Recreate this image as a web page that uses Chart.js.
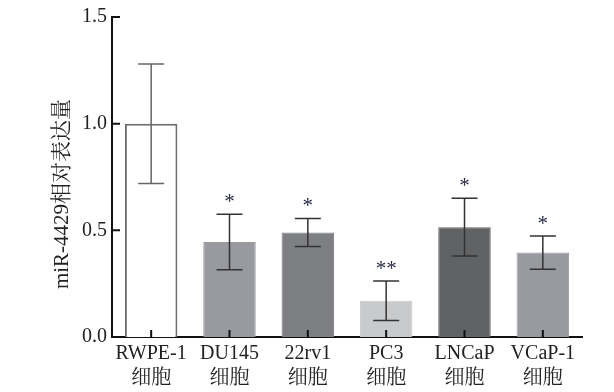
<!DOCTYPE html>
<html>
<head>
<meta charset="utf-8">
<script src="https://cdn.jsdelivr.net/npm/chart.js@4/dist/chart.umd.min.js"></script>
<style>
  html, body { margin: 0; padding: 0; background: #fff; }
  #wrap { width: 614px; height: 392px; }
</style>
</head>
<body>
<div id="wrap"><canvas id="mainChart" width="614" height="392"></canvas></div>
<script>
// Data
const categories = [['RWPE-1', '细胞'], ['DU145', '细胞'], ['22rv1', '细胞'], ['PC3', '细胞'], ['LNCaP', '细胞'], ['VCaP-1', '细胞']];
const values = [1.0, 0.445, 0.49, 0.17, 0.515, 0.396];
const errors = [0.28, 0.13, 0.066, 0.093, 0.135, 0.078];
const marks = ['', '*', '*', '**', '*', '*'];
const yTicks = [0, 0.5, 1.0, 1.5];
const yTitle = 'miR-4429相对表达量';

const fillColors = ['#ffffff', '#999aa0', '#7e7f82', '#c9cacc', '#616264', '#999aa0'];
const borderColors = ['#6e6e6e', '#999aa0', '#7e7f82', '#c9cacc', '#616264', '#999aa0'];
const serif = '"Liberation Serif", "Noto Serif CJK SC", "Noto Sans CJK SC", serif';

// Error bars, significance marks, inward ticks and the y title
const extrasPlugin = {
  id: 'extras',
  afterDatasetsDraw(chart) {
    const { ctx, scales: { x, y } } = chart;
    const meta = chart.getDatasetMeta(0);
    ctx.save();
    meta.data.forEach((bar, i) => {
      const cx = bar.x;
      const top = y.getPixelForValue(values[i] + errors[i]);
      const bot = y.getPixelForValue(values[i] - errors[i]);
      ctx.strokeStyle = i === 0 ? '#666' : '#333';
      ctx.lineWidth = 1.5;
      ctx.beginPath();
      ctx.moveTo(cx, top); ctx.lineTo(cx, bot);
      ctx.moveTo(cx - 13, top); ctx.lineTo(cx + 13, top);
      ctx.moveTo(cx - 13, bot); ctx.lineTo(cx + 13, bot);
      ctx.stroke();
      if (marks[i]) {
        ctx.fillStyle = '#2a2d45';
        ctx.font = '21px ' + serif;
        ctx.textAlign = 'center';
        ctx.textBaseline = 'alphabetic';
        ctx.fillText(marks[i], cx, top - 6);
      }
    });
    // ticks pointing into the plot
    ctx.strokeStyle = '#111';
    ctx.lineWidth = 2;
    ctx.beginPath();
    yTicks.forEach(v => {
      const py = y.getPixelForValue(v);
      ctx.moveTo(x.left, py); ctx.lineTo(x.left + 8, py);
    });
    meta.data.forEach(bar => {
      ctx.moveTo(bar.x, y.bottom); ctx.lineTo(bar.x, y.bottom - 7);
    });
    ctx.stroke();

    // rotated axis title, sitting a bit below the axis middle as in the source
    ctx.translate(62, (y.top + y.bottom) / 2 + 17);
    ctx.rotate(-Math.PI / 2);
    ctx.fillStyle = '#222';
    ctx.font = '21px ' + serif;
    ctx.textAlign = 'center';
    ctx.textBaseline = 'middle';
    ctx.fillText(yTitle, 0, 0);
    ctx.restore();
  }
};

new Chart(document.getElementById('mainChart').getContext('2d'), {
  type: 'bar',
  data: {
    labels: categories,
    datasets: [{
      data: values,
      backgroundColor: fillColors,
      borderColor: borderColors,
      borderWidth: [2, 1, 1, 1, 1, 1],
      barPercentage: 0.67,
      categoryPercentage: 1.0
    }]
  },
  options: {
    responsive: false,
    animation: false,
    layout: { padding: { left: 50, right: 32, top: 16, bottom: 0 } },
    plugins: { legend: { display: false }, tooltip: { enabled: false } },
    scales: {
      x: {
        grid: { display: false, drawTicks: false },
        border: { display: true, color: '#111', width: 2 },
        ticks: { color: '#222', padding: 4, font: { family: serif, size: 20, lineHeight: 1.25 }, maxRotation: 0, autoSkip: false },
        afterFit(scale) { scale.height = 55; }
      },
      y: {
        min: 0, max: 1.5,
        afterBuildTicks(scale) { scale.ticks = yTicks.map(v => ({ value: v })); },
        grid: { display: false, drawTicks: false },
        border: { display: true, color: '#111', width: 2 },
        ticks: { color: '#222', padding: 5, font: { family: serif, size: 20 }, callback: v => v.toFixed(1) },
        afterFit(scale) { scale.width = 62; }
      }
    }
  },
  plugins: [extrasPlugin]
});
</script>
</body>
</html>
